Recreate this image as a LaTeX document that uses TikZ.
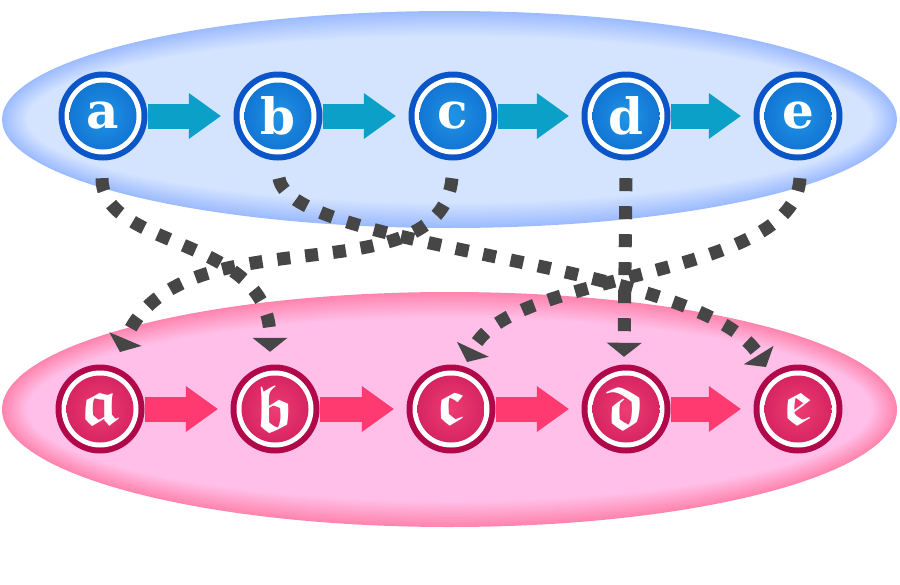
\documentclass[tikz,border=0pt]{standalone}
\usepackage{fontspec}
\newfontfamily\letterfont{DejaVu Serif}[BoldFont={DejaVu Serif Bold}]
\usetikzlibrary{arrows.meta}
\DeclareFontFamily{U}{euf}{}
\DeclareFontShape{U}{euf}{m}{n}{<-> eufm10}{}
\DeclareFontShape{U}{euf}{b}{n}{<-> eufb10}{}
\definecolor{ubg}{HTML}{D4E4FF}
\definecolor{uglow}{HTML}{9DBBFF}
\definecolor{lbg}{HTML}{FFBFE8}
\definecolor{lglow}{HTML}{FF85AE}
\definecolor{uring}{HTML}{0A55C8}
\definecolor{ucenter}{HTML}{2094E4}
\definecolor{uedge}{HTML}{0558C6}
\definecolor{lring}{HTML}{B00848}
\definecolor{lcenter}{HTML}{EE3C74}
\definecolor{ledge}{HTML}{BE0E4E}
\definecolor{uarrow}{HTML}{0AA0C8}
\definecolor{larrow}{HTML}{FF3A70}
\definecolor{dashcol}{HTML}{464646}
\pgfdeclareradialshading{ushade}{\pgfpoint{0bp}{0bp}}{color(0bp)=(ucenter); color(50bp)=(uedge)}
\pgfdeclareradialshading{lshade}{\pgfpoint{0bp}{0bp}}{color(0bp)=(lcenter); color(50bp)=(ledge)}
\tikzset{
  basenode/.style={circle, minimum size=89pt, inner sep=0pt, text=white},
  unode/.style={basenode, fill=uring,
    font=\letterfont\fontsize{50}{50}\selectfont\bfseries,
    path picture={\fill[white] (path picture bounding box.center) circle[radius=38.5pt];
      \shade[shading=ushade] (path picture bounding box.center) circle[radius=33.5pt];}},
  lnode/.style={basenode, fill=lring,
    font=\fontsize{66}{66}\usefont{U}{euf}{b}{n},
    path picture={\fill[white] (path picture bounding box.center) circle[radius=38.5pt];
      \shade[shading=lshade] (path picture bounding box.center) circle[radius=33.5pt];}},
  fatarrow/.style={line width=25pt, shorten >=12.5pt,
    -{Triangle[length=32pt,width=46pt,line width=0pt]}},
  uarr/.style={fatarrow, draw=uarrow},
  larr/.style={fatarrow, draw=larrow},
  dashlink/.style={draw=dashcol, line width=13pt, dash pattern=on 13pt off 15pt,
    -{Triangle[length=14pt,width=35pt,line width=0pt]}},
}
\begin{document}
\begin{tikzpicture}[x=1pt,y=-1pt]
\useasboundingbox (0,0) rectangle (900,584);
% background ellipses with soft edge glow
\foreach \i in {0,...,18} {
  \pgfmathsetmacro\p{100-\i*100/18}
  \fill[uglow!\p!ubg] (449.5,119.5) ellipse [x radius={447.5pt-1.4pt*\i}, y radius={108.5pt-1.4pt*\i}];
  \fill[lglow!\p!lbg] (449.5,409.5) ellipse [x radius={447.5pt-1.4pt*\i}, y radius={117.5pt-1.4pt*\i}];
}
% upper nodes
\node[unode] (ua) at (103,116) {a};
\node[unode] (ub) at (278,116) {b};
\node[unode] (uc) at (453,116) {c};
\node[unode] (ud) at (626,116) {d};
\node[unode] (ue) at (798,116) {e};
% lower nodes
\node[lnode] (la) at (100,409) {a};
\node[lnode] (lb) at (275,409) {b};
\node[lnode] (lc) at (451,409) {c};
\node[lnode] (ld) at (626,409) {d};
\node[lnode] (le) at (798,409) {e};
% horizontal arrows
\draw[uarr] (ua) -- (ub);
\draw[uarr] (ub) -- (uc);
\draw[uarr] (uc) -- (ud);
\draw[uarr] (ud) -- (ue);
\draw[larr] (la) -- (lb);
\draw[larr] (lb) -- (lc);
\draw[larr] (lc) -- (ld);
\draw[larr] (ld) -- (le);
% dashed links
\draw[dashlink] ([shift={(-1,17.5)}]ua.south) .. controls +(0,72) and +(0,-117) .. ([shift={(-5,-12.5)}]lb.north);
\draw[dashlink] ([shift={(1,17.5)}]ub.south) .. controls +(11,72) and +(-66,-107) .. ([shift={(-32,-42)}]le.center);
\draw[dashlink] ([shift={(-1,17.5)}]uc.south) .. controls +(-12,122) and +(60,-142) .. ([shift={(20,-57)}]la.center);
\draw[dashlink] ([shift={(0,17.5)}]ud.south) -- ([shift={(-2,-7.5)}]ld.north);
\draw[dashlink] ([shift={(2,17.5)}]ue.south) .. controls +(-5,102) and +(43,-92) .. ([shift={(16,-47)}]lc.center);
\end{tikzpicture}
\end{document}
